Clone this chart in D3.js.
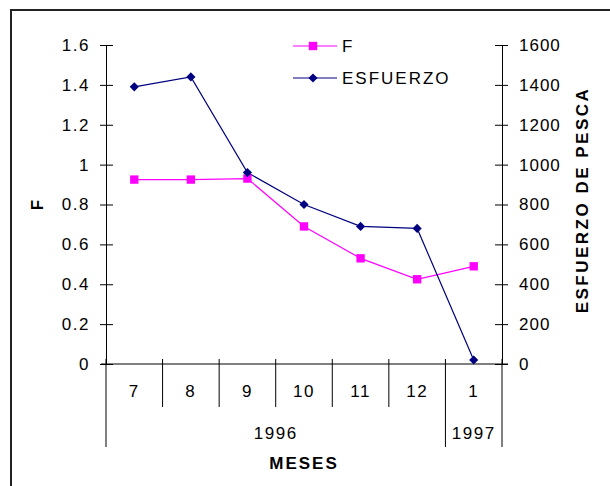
<!DOCTYPE html>
<html>
<head>
<meta charset="utf-8">
<script src="https://cdn.jsdelivr.net/npm/d3@7"></script>
<style>
  body { margin: 0; background: #fff; }
  svg text { font-family: Arial, "Liberation Sans", sans-serif; }
</style>
</head>
<body>
<div id="chart-area"></div>
<script>
// months on the x axis, and the year each one belongs to
var months = ["7", "8", "9", "10", "11", "12", "1"];
var monthYears = ["1996", "1996", "1996", "1996", "1996", "1996", "1997"];

// series
var valuesF = [0.925, 0.925, 0.93, 0.69, 0.53, 0.425, 0.49];
var valuesEsfuerzo = [1390, 1440, 960, 800, 690, 680, 20];

var width = 610, height = 486;
var plotLeft = 106, plotRight = 502, plotTop = 45, plotBottom = 364;

var svg = d3.select("#chart-area").append("svg")
    .attr("width", width)
    .attr("height", height);

// outer frame (only top and left edges fall inside the picture)
svg.append("rect")
    .attr("x", 11).attr("y", 10)
    .attr("width", 700).attr("height", 600)
    .attr("fill", "none")
    .attr("stroke", "#222")
    .attr("stroke-width", 2);

var x = d3.scaleBand()
    .domain(d3.range(months.length))
    .range([plotLeft, plotRight])
    .padding(0);

var yF = d3.scaleLinear().domain([0, 1.6]).range([plotBottom, plotTop]);
var yE = d3.scaleLinear().domain([0, 1600]).range([plotBottom, plotTop]);

var fontSize = "17px";

// left axis
var axisL = svg.append("g")
    .attr("transform", "translate(" + plotLeft + ",0)")
    .call(d3.axisLeft(yF).ticks(8).tickSize(0).tickPadding(16).tickFormat(d3.format("~g")));
axisL.select(".domain").attr("stroke", "#000");
axisL.selectAll(".tick line").attr("x1", -6).attr("x2", 7).attr("stroke", "#000");
axisL.selectAll(".tick text")
    .style("font-size", fontSize)
    .style("letter-spacing", "1.5px")
    .attr("fill", "#000");

// right axis
var axisR = svg.append("g")
    .attr("transform", "translate(" + plotRight + ",0)")
    .call(d3.axisRight(yE).ticks(8).tickSize(0).tickPadding(17).tickFormat(d3.format("d")));
axisR.select(".domain").attr("stroke", "#000");
axisR.selectAll(".tick line").attr("x1", -7).attr("x2", 6).attr("stroke", "#000");
axisR.selectAll(".tick text")
    .style("font-size", fontSize)
    .style("letter-spacing", "1px")
    .attr("fill", "#000");

// category axis: baseline, month separators, year groups
svg.append("line")
    .attr("x1", plotLeft - 5).attr("x2", plotRight + 6)
    .attr("y1", plotBottom).attr("y2", plotBottom)
    .attr("stroke", "#000");

var bounds = d3.range(months.length + 1).map(function(i) {
  return i < months.length ? x(i) : x(months.length - 1) + x.bandwidth();
});

var yearBreaks = [0];
monthYears.forEach(function(y, i) {
  if (i > 0 && y !== monthYears[i - 1]) yearBreaks.push(i);
});
yearBreaks.push(months.length);

svg.selectAll(".sep")
    .data(bounds)
    .enter().append("line")
    .attr("class", "sep")
    .attr("x1", d => d).attr("x2", d => d)
    .attr("y1", plotBottom - 5)
    .attr("y2", (d, i) => yearBreaks.indexOf(i) >= 0 ? 447 : 407)
    .attr("stroke", "#000");

svg.selectAll(".month")
    .data(months)
    .enter().append("text")
    .attr("class", "month")
    .attr("x", (d, i) => x(i) + x.bandwidth() / 2)
    .attr("y", 397)
    .attr("text-anchor", "middle")
    .style("font-size", fontSize)
    .style("letter-spacing", "1.5px")
    .text(d => d);

var groups = d3.range(yearBreaks.length - 1).map(function(k) {
  return { year: monthYears[yearBreaks[k]], a: bounds[yearBreaks[k]], b: bounds[yearBreaks[k + 1]] };
});

svg.selectAll(".year")
    .data(groups)
    .enter().append("text")
    .attr("class", "year")
    .attr("x", d => (d.a + d.b) / 2)
    .attr("y", 439)
    .attr("text-anchor", "middle")
    .style("font-size", fontSize)
    .style("letter-spacing", "1.5px")
    .text(d => d.year);

// titles
svg.append("text")
    .attr("x", 304).attr("y", 469)
    .attr("text-anchor", "middle")
    .style("font-size", fontSize)
    .style("font-weight", "bold")
    .style("letter-spacing", "2px")
    .text("MESES");

svg.append("text")
    .attr("transform", "translate(43,205) rotate(-90)")
    .attr("text-anchor", "middle")
    .style("font-size", fontSize)
    .style("font-weight", "bold")
    .text("F");

svg.append("text")
    .attr("transform", "translate(588,200) rotate(-90)")
    .attr("text-anchor", "middle")
    .style("font-size", fontSize)
    .style("font-weight", "bold")
    .style("letter-spacing", "2.5px")
    .text("ESFUERZO DE PESCA");

// series
var cx = function(d, i) { return x(i) + x.bandwidth() / 2; };

var lineF = d3.line().x(cx).y(d => yF(d));
var lineE = d3.line().x(cx).y(d => yE(d));

svg.append("path")
    .datum(valuesF)
    .attr("d", lineF)
    .attr("fill", "none")
    .attr("stroke", "#ff00ff")
    .attr("stroke-width", 1.2);

svg.append("path")
    .datum(valuesEsfuerzo)
    .attr("d", lineE)
    .attr("fill", "none")
    .attr("stroke", "#000080")
    .attr("stroke-width", 1.2);

var square = d3.symbol().type(d3.symbolSquare).size(70);
// diamond = square turned 45 degrees
var diamond = d3.symbol().type(d3.symbolSquare).size(42);

svg.selectAll(".ptF")
    .data(valuesF)
    .enter().append("path")
    .attr("class", "ptF")
    .attr("d", square)
    .attr("transform", (d, i) => "translate(" + cx(d, i) + "," + yF(d) + ")")
    .attr("fill", "#ff00ff");

svg.selectAll(".ptE")
    .data(valuesEsfuerzo)
    .enter().append("path")
    .attr("class", "ptE")
    .attr("d", diamond)
    .attr("transform", (d, i) => "translate(" + cx(d, i) + "," + yE(d) + ") rotate(45)")
    .attr("fill", "#000080");

// legend
var legend = svg.append("g")
    .attr("class", "legend")
    .attr("transform", "translate(293,46)");

var legendItems = [
  { name: "F", color: "#ff00ff", symbol: square, rot: 0 },
  { name: "ESFUERZO", color: "#000080", symbol: diamond, rot: 45 }
];

legendItems.forEach(function(item, i) {
  var row = legend.append("g")
      .attr("transform", "translate(0," + (i * 32) + ")");
  row.append("line")
      .attr("x1", 0).attr("x2", 44)
      .attr("stroke", item.color)
      .attr("stroke-width", 1.2);
  row.append("path")
      .attr("d", item.symbol)
      .attr("transform", "translate(20,0) rotate(" + item.rot + ")")
      .attr("fill", item.color);
  row.append("text")
      .attr("x", 49).attr("y", 6)
      .style("font-size", fontSize)
      .style("letter-spacing", "2px")
      .text(item.name);
});
</script>
</body>
</html>
